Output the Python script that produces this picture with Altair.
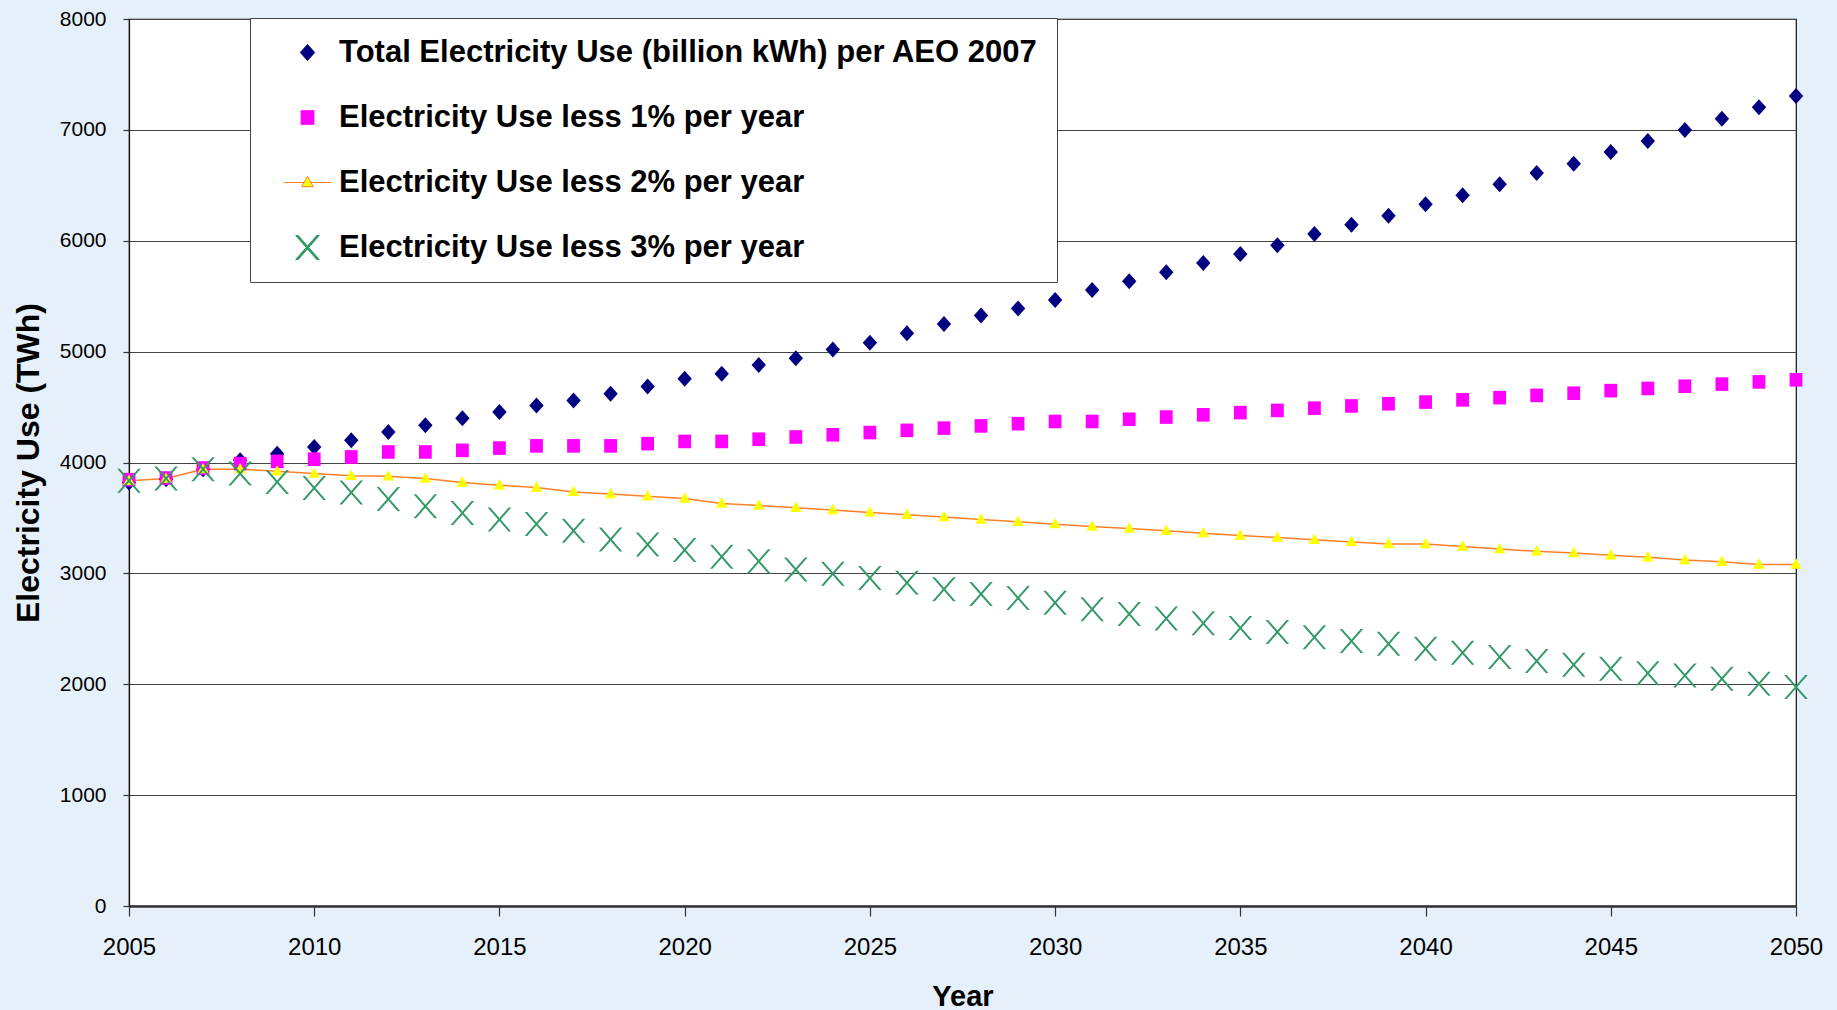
import altair as alt
import pandas as pd

years = list(range(2005, 2051))

total = [3820, 3850, 3940, 4020, 4080, 4140, 4200, 4275, 4335, 4400,
         4455, 4515, 4560, 4620, 4685, 4755, 4800, 4880, 4940, 5020,
         5080, 5165, 5250, 5325, 5390, 5465, 5555, 5635, 5715, 5800,
         5880, 5960, 6060, 6145, 6225, 6330, 6410, 6510, 6610, 6695,
         6800, 6900, 7000, 7100, 7205, 7305]

less1 = [3845, 3860, 3950, 3990, 4010, 4030, 4050, 4095, 4095, 4110,
         4130, 4150, 4150, 4150, 4170, 4190, 4190, 4210, 4230, 4250,
         4270, 4290, 4310, 4330, 4350, 4370, 4370, 4390, 4410, 4430,
         4450, 4470, 4490, 4510, 4530, 4545, 4565, 4585, 4605, 4625,
         4648, 4668, 4688, 4707, 4727, 4746]

less2 = [3835, 3855, 3940, 3940, 3920, 3900, 3880, 3875, 3855, 3820,
         3795, 3775, 3735, 3715, 3695, 3675, 3630, 3612, 3592, 3571,
         3550, 3529, 3508, 3486, 3465, 3444, 3423, 3405, 3384, 3363,
         3342, 3324, 3303, 3284, 3265, 3265, 3242, 3219, 3199, 3184,
         3164, 3145, 3121, 3105, 3080, 3080]

less3 = [3835, 3856, 3940, 3900, 3825, 3770, 3730, 3670, 3605, 3545,
         3485, 3445, 3385, 3305, 3260, 3210, 3150, 3110, 3035, 2997,
         2958, 2916, 2856, 2814, 2778, 2736, 2676, 2634, 2592, 2550,
         2508, 2471, 2425, 2390, 2365, 2320, 2285, 2245, 2210, 2175,
         2140, 2100, 2080, 2050, 2005, 1975]

series_names = [
    "Total Electricity Use (billion kWh) per AEO 2007",
    "Electricity Use less 1% per year",
    "Electricity Use less 2% per year",
    "Electricity Use less 3% per year",
]
fill_colors = ["#000080", "#FF00FF", "#FFFF00", "#339966"]
stroke_colors = ["#000080", "#FF00FF", "#FF7F27", "#339966"]
line_color = "#FF7F27"

y_ticks = list(range(0, 8001, 1000))
x_ticks = list(range(2005, 2051, 5))

rows = []
for name, vals in zip(series_names, [total, less1, less2, less3]):
    for yr, v in zip(years, vals):
        rows.append({"year": yr, "value": v, "series": name})
df = pd.DataFrame(rows)
df_leg = df[df["year"] == years[0]]
df_line = df[df["series"] == series_names[2]]

DIAMOND = "M0,-0.8L0.72,0L0,0.8L-0.72,0Z"
SQUARE = "M-0.64,-0.68L0.64,-0.68L0.64,0.68L-0.64,0.68Z"
TRI = "M0,-0.62L0.58,0.42L-0.58,0.42Z"
TRI_LINE = TRI + "M-2.4,0L-0.35,0M0.35,0L2.4,0"
XMARK = ("M-1.18,-1.2L-0.92,-1.2L0,-0.149L0.92,-1.2L1.18,-1.2L0.13,0"
         "L1.18,1.2L0.92,1.2L0,0.149L-0.92,1.2L-1.18,1.2L-0.13,0Z")

FONT = "Liberation Sans"
W, H = 1667, 887

x_enc = alt.X(
    "year:Q",
    scale=alt.Scale(domain=[2005, 2050], nice=False, zero=False),
    axis=alt.Axis(
        values=x_ticks, format="d", title="Year", grid=False,
        labelFontSize=24, labelColor="#000", labelPadding=19,
        labelFlush=False, labelOverlap=False,
        tickSize=10, tickColor="#333", tickWidth=1.2,
        domainColor="#333", domainWidth=2.4,
        titleFontSize=29, titleFontWeight="bold", titleColor="#000",
        titleX=W / 2, titleY=99, titleBaseline="alphabetic",
    ),
)
y_enc = alt.Y(
    "value:Q",
    scale=alt.Scale(domain=[0, 8000], nice=False),
    axis=alt.Axis(
        values=y_ticks, format="d", title="Electricity Use (TWh)",
        grid=True, gridColor="#444", gridWidth=1.2,
        labelFontSize=21, labelColor="#000", labelPadding=17,
        labelFlush=False,
        tickSize=6, tickColor="#333", tickWidth=1.2,
        domainColor="#111", domainWidth=1.2,
        titleFontSize=32, titleFontWeight="bold", titleColor="#000",
        titleX=-101, titleY=H / 2, titleAngle=-90,
        titleAlign="center", titleBaseline="middle",
    ),
)

line = alt.Chart(df_line).mark_line(color=line_color, strokeWidth=1.5).encode(
    x=x_enc, y=y_enc
)

points = alt.Chart(df).mark_point(filled=True, size=400, opacity=1, strokeWidth=0).encode(
    x=x_enc,
    y=y_enc,
    shape=alt.Shape("series:N", scale=alt.Scale(domain=series_names,
                    range=[DIAMOND, SQUARE, TRI, XMARK]), legend=None),
    color=alt.Color("series:N", scale=alt.Scale(domain=series_names,
                    range=fill_colors), legend=None),
)

leg = alt.Legend(
    title=None, orient="none", legendX=121, legendY=-1,
    fillColor="white", strokeColor="#444",
    padding=19, rowPadding=33, symbolOffset=23, labelOffset=16,
    symbolSize=400, symbolOpacity=1, symbolStrokeWidth=1,
    labelFont=FONT, labelFontSize=31, labelFontWeight="bold",
    labelColor="#000", labelLimit=2000,
)

legend_layer = alt.Chart(df_leg).mark_point(filled=True, size=400, opacity=0, strokeWidth=1).encode(
    x=x_enc,
    y=y_enc,
    shape=alt.Shape("series:N", scale=alt.Scale(domain=series_names,
                    range=[DIAMOND, SQUARE, TRI_LINE, XMARK]), legend=leg),
    color=alt.Color("series:N", scale=alt.Scale(domain=series_names,
                    range=fill_colors), legend=leg),
    stroke=alt.Stroke("series:N", scale=alt.Scale(domain=series_names,
                      range=stroke_colors), legend=leg),
)

chart = (
    alt.layer(line, points, legend_layer)
    .resolve_scale(color="independent", shape="independent", stroke="independent")
    .properties(
        width=W, height=H,
        background="#e5f0fa",
        padding={"left": 129, "top": 19, "right": 41, "bottom": 104},
        autosize=alt.AutoSizeParams(type="none"),
    )
    .configure_view(stroke="#111", strokeWidth=1.2, fill="white")
    .configure_axis(labelFont=FONT, titleFont=FONT)
    .configure_legend(labelFont=FONT)
)

chart.save("out.html", embed_options={"renderer": "svg", "actions": False})
